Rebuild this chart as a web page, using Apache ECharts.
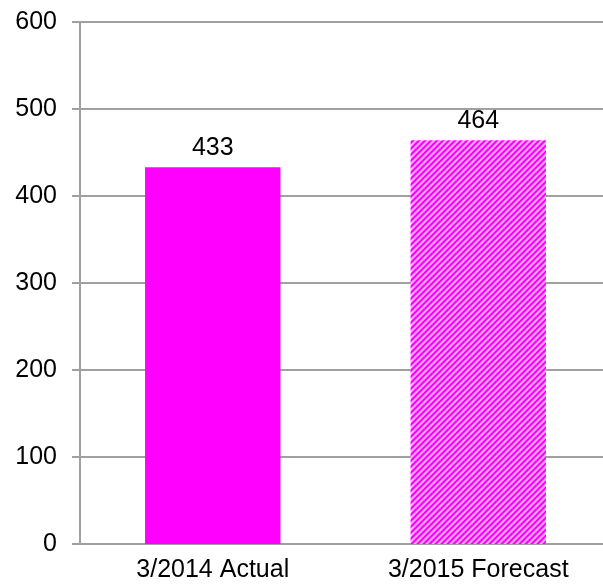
<!DOCTYPE html>
<html>
<head>
<meta charset="utf-8">
<script src="https://cdn.jsdelivr.net/npm/echarts@6/dist/echarts.min.js"></script>
<style>
html,body{margin:0;padding:0;background:#fff;}
#chart{width:603px;height:584px;}
</style>
</head>
<body>
<div id="chart"></div>
<script>
const categories = ['3/2014 Actual', '3/2015 Forecast'];
const values = [433, 464];
const yMin = 0, yMax = 600, yStep = 100;

function makeHatch() {
  const n = 6;
  const c = document.createElement('canvas');
  c.width = n; c.height = n;
  const ctx = c.getContext('2d');
  const img = ctx.createImageData(n, n);
  const shades = [[255,0,255],[255,0,255],[255,70,255],[255,176,255],[255,176,255],[255,90,255]];
  for (let y = 0; y < n; y++) {
    for (let x = 0; x < n; x++) {
      const s = shades[(x + y) % n];
      const i = (y * n + x) * 4;
      img.data[i] = s[0]; img.data[i+1] = s[1]; img.data[i+2] = s[2]; img.data[i+3] = 255;
    }
  }
  ctx.putImageData(img, 0, 0);
  return c;
}

const chart = echarts.init(document.getElementById('chart'), null, {renderer: 'canvas'});
const font = 'Liberation Sans, Arial, sans-serif';
const gray = '#A0A0A0';
const itemColors = ['#FF00FF', {image: makeHatch(), repeat: 'repeat'}];

chart.setOption({
  animation: false,
  backgroundColor: '#ffffff',
  grid: {left: 80, width: 531, top: 22, bottom: 40, containLabel: false, outerBoundsMode: 'none'},
  xAxis: {
    type: 'category',
    data: categories,
    axisLine: {show: true, lineStyle: {color: gray, width: 2}},
    axisTick: {show: false},
    axisLabel: {color: '#000', fontSize: 25, fontFamily: font, margin: 14},
    splitLine: {show: false}
  },
  yAxis: {
    type: 'value',
    min: yMin, max: yMax, interval: yStep,
    axisLine: {show: true, lineStyle: {color: gray, width: 2}},
    axisTick: {show: true, length: 8, lineStyle: {color: gray, width: 2}},
    axisLabel: {color: '#000', fontSize: 25, fontFamily: font, margin: 23},
    splitLine: {show: true, lineStyle: {color: gray, width: 2}}
  },
  series: [{
    type: 'bar',
    barWidth: '51%',
    data: values.map((v, i) => ({value: v, itemStyle: {color: itemColors[i]}})),
    label: {show: true, position: 'top', distance: 7, color: '#000', fontSize: 25, fontFamily: font}
  }]
});
</script>
</body>
</html>
